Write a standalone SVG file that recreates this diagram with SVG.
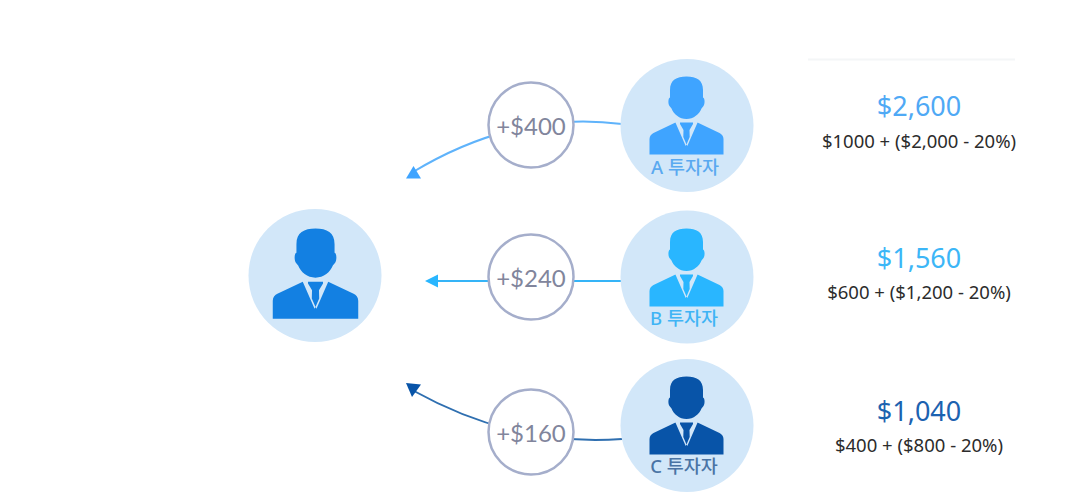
<svg xmlns="http://www.w3.org/2000/svg" width="1067" height="495" viewBox="0 0 1067 495">
<style>
.disc{fill:#d2e7f9}
.amt{fill:#fff;stroke:#a5aecb;stroke-width:2.5}
.amtT{font-family:Lato,"Noto Sans",sans-serif;font-size:24px;fill:#81859c;text-anchor:middle}
.lab{font-family:"Noto Sans","Noto Sans CJK KR",sans-serif;font-size:18.500px;font-weight:500;text-anchor:middle}
.tot{font-family:"Noto Sans","Noto Sans CJK KR",sans-serif;font-size:27px;text-anchor:middle}
.sub{font-family:"Noto Sans","Noto Sans CJK KR",sans-serif;font-size:18.500px;fill:#2c2c2c;text-anchor:middle}
.c{fill:none;stroke-width:2}
.gap{fill:#d2e7f9}
</style>
<defs>
<g id="person">
<path d="M0 0.500C10 0.500 16.500 4 16.500 14V21.500C18.500 22 18.500 28 17 30L15 32.500C13 38 7 43 0 43C-7 43 -13 38 -15 32.500L-17 30C-18.500 28 -18.500 22 -16.500 21.500V14C-16.500 4 -10 0.500 0 0.500ZM-37 78.500V63C-37 60 -35 58 -33 57L-11 46.500H11L33 57C35 58 37 60 37 63V78.500Z"/>
<path class="gap" d="M-11.500 45.500H-6.500V48L-3 54L-3.200 61L0 68.500L-0.800 70ZM11.500 45.500H6.500V48L3 54L3.200 61L0 68.500L0.800 70Z"/>
</g>
</defs>
<path d="M808 59.500H1015" stroke="#f4f6f7" stroke-width="2" fill="none"/>
<g id="connectors">
<path class="c" d="M622 124Q516 110 413 172" stroke="#5fb3fb"/>
<path d="M406 178.500L413.500 166L421 178.500Z" fill="#3fa4ff"/>
<path class="c" d="M622 281H436" stroke="#35b4f7"/>
<path d="M425 281L438 274.500V287.500Z" fill="#29b6ff"/>
<path class="c" d="M622 439Q515 447 414 391" stroke="#2f6fb0"/>
<path d="M406 383L421 384.500L412 397Z" fill="#0854a8"/>
</g>
<g id="investor-main">
<circle class="disc" cx="315" cy="275.500" r="66.500"/>
<use href="#person" transform="translate(315.500 228) scale(1.155)" fill="#1380e2"/>
</g>
<g id="amount-a">
<circle class="amt" cx="531" cy="125" r="42.500"/>
<text class="amtT" x="531" y="135">+$400</text>
</g>
<g id="amount-b">
<circle class="amt" cx="531" cy="277" r="42.500"/>
<text class="amtT" x="531" y="287">+$240</text>
</g>
<g id="amount-c">
<circle class="amt" cx="531" cy="432" r="42.500"/>
<text class="amtT" x="531" y="442">+$160</text>
</g>
<g id="investor-a">
<circle class="disc" cx="687" cy="125.500" r="66.500"/>
<use href="#person" transform="translate(686.500 76)" fill="#3fa4ff"/>
<text class="lab" x="685" y="174" fill="#5aa9f0">A 투자자</text>
</g>
<g id="investor-b">
<circle class="disc" cx="687" cy="277" r="66.500"/>
<use href="#person" transform="translate(686.500 228)" fill="#29b6ff"/>
<text class="lab" x="684" y="325" fill="#3fb4f5">B 투자자</text>
</g>
<g id="investor-c">
<circle class="disc" cx="687" cy="425.500" r="66.500"/>
<use href="#person" transform="translate(686.500 376)" fill="#0854a8"/>
<text class="lab" x="684" y="473" fill="#4a74a5">C 투자자</text>
</g>
<g id="result-a">
<text class="tot" x="919" y="116" fill="#4fa9f5">$2,600</text>
<text class="sub" x="919" y="148">$1000 + ($2,000 - 20%)</text>
</g>
<g id="result-b">
<text class="tot" x="919" y="268" fill="#3cb6f7">$1,560</text>
<text class="sub" x="919" y="299">$600 + ($1,200 - 20%)</text>
</g>
<g id="result-c">
<text class="tot" x="919" y="421" fill="#1c62b0">$1,040</text>
<text class="sub" x="919" y="452">$400 + ($800 - 20%)</text>
</g>
</svg>
